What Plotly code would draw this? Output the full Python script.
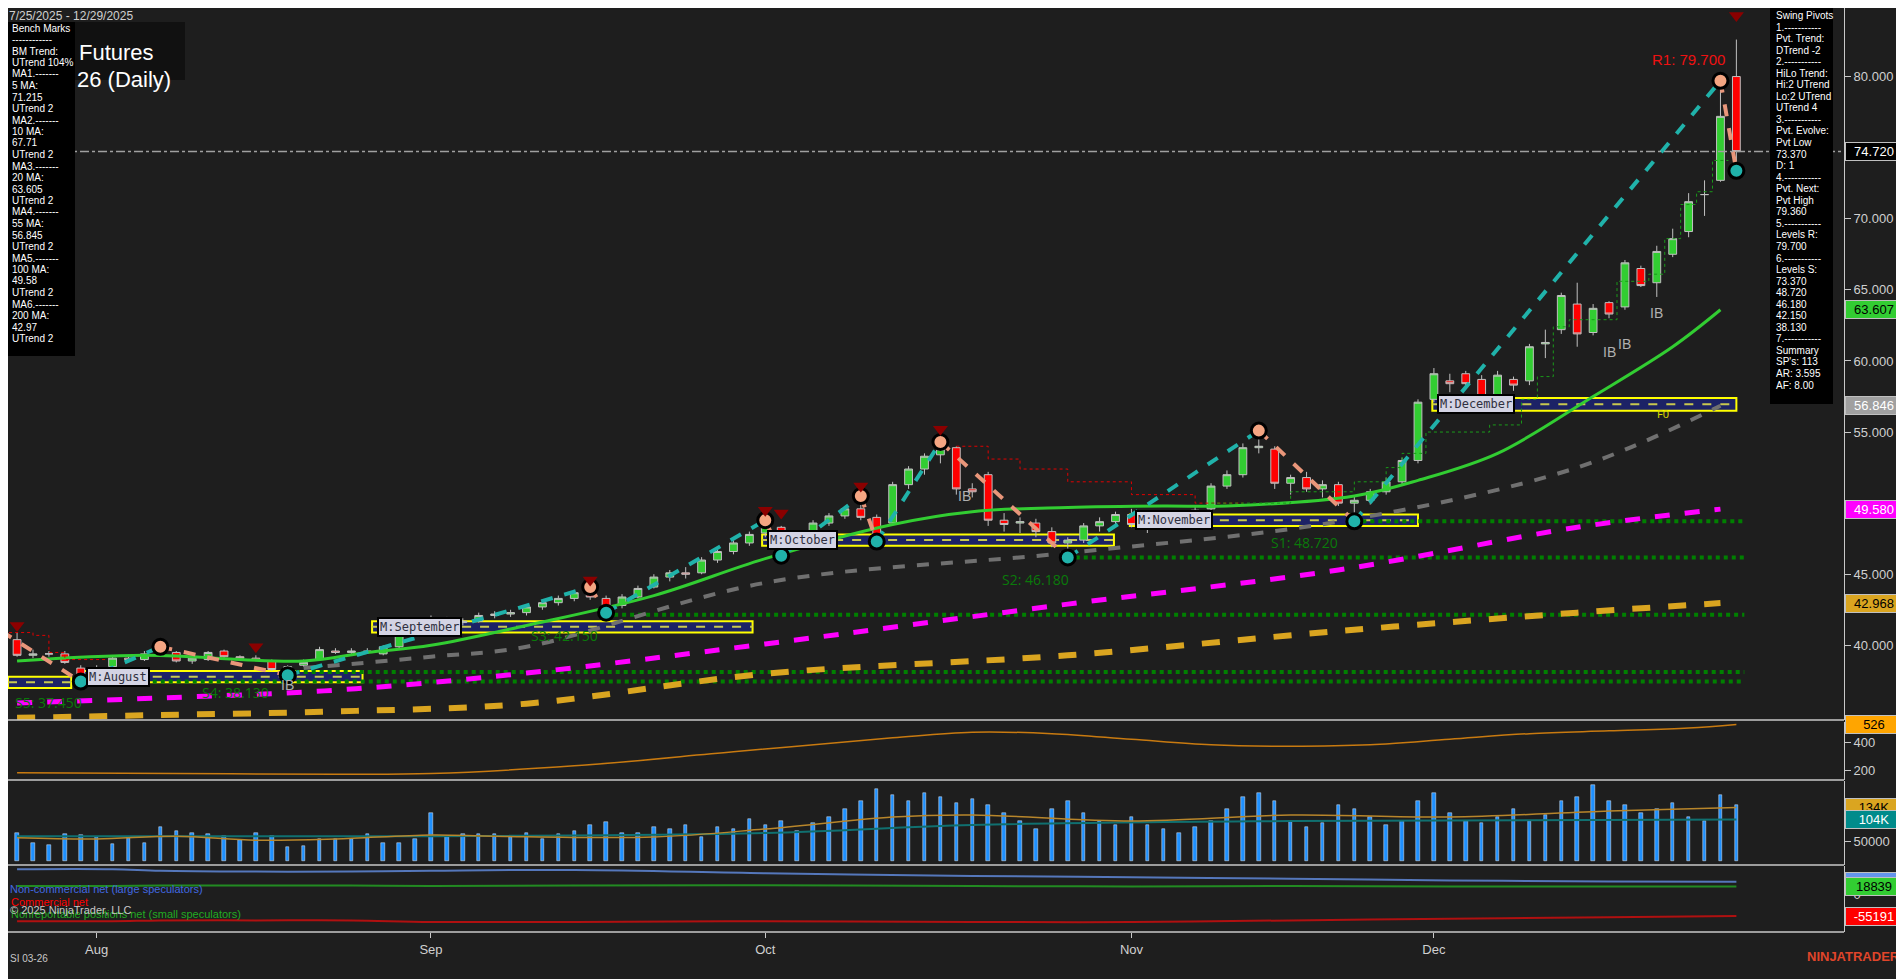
import plotly.graph_objects as go

# ---- price data (bar index = trading day from 7/25/2025) ----
bar_idx = list(range(109))
opens = [40.4, 39.3, 39.4, 39.4, 38.4, 37.9, 38.5, 39.1, 39.0, 39.4, 39.5, 38.9, 39.0, 39.6, 39.2, 39.1, 38.9, 38.3,
         38.6, 39.0, 39.6, 39.5, 39.5, 39.4, 39.9, 40.9, 41.7, 41.9, 41.6, 41.7, 42.1, 42.2, 42.3, 42.7, 43.0, 43.3,
         43.7, 43.3, 42.8, 43.4, 44.1, 44.8, 45.1, 45.1, 46.0, 46.6, 47.2, 47.9, 48.3, 46.9, 48.0, 48.6, 49.1, 49.6,
         49.0, 48.6, 51.3, 52.4, 53.4, 53.9, 51.0, 52.0, 48.8, 48.6, 48.6, 48.0, 47.2, 47.4, 48.4, 48.7, 49.2, 48.4,
         48.6, 48.8, 49.2, 49.6, 51.2, 52.0, 53.9, 53.8, 51.4, 51.8, 51.0, 51.3, 50.0, 50.2, 50.8, 51.5, 53.0, 57.3,
         58.6, 59.1, 58.7, 57.5, 58.7, 58.6, 61.2, 62.2, 64.0, 62.0, 64.1, 63.8, 66.5, 65.5, 67.5, 69.1, 71.7, 72.7,
         80.0]
highs = [40.9, 39.7, 39.6, 39.6, 38.6, 38.6, 39.2, 39.3, 39.6, 40.0, 39.6, 39.2, 39.6, 39.7, 39.3, 39.3, 39.0, 38.6,
         39.0, 39.9, 39.8, 39.8, 39.8, 40.0, 41.0, 41.7, 42.1, 42.0, 41.9, 42.3, 42.4, 42.5, 42.9, 43.2, 43.5, 43.9,
         44.1, 43.5, 43.6, 44.2, 45.0, 45.3, 45.5, 46.2, 46.8, 47.4, 48.0, 48.8, 48.4, 48.0, 48.8, 49.3, 49.8, 50.5,
         49.2, 51.5, 52.6, 53.5, 54.4, 54.0, 51.4, 52.2, 49.3, 49.0, 48.9, 48.3, 47.6, 48.6, 49.0, 49.4, 49.6, 48.8,
         49.0, 49.4, 49.8, 51.4, 52.3, 54.2, 55.1, 54.0, 52.0, 52.2, 51.6, 51.5, 50.5, 51.0, 51.8, 53.2, 57.3, 59.5,
         59.1, 59.3, 59.0, 59.3, 58.9, 61.2, 62.2, 64.8, 65.5, 64.0, 64.2, 67.1, 66.7, 68.1, 69.3, 71.8, 72.7, 79.7,
         82.6]
lows = [39.2, 39.1, 39.2, 38.7, 37.45, 37.6, 38.4, 38.9, 38.9, 39.3, 38.8, 38.7, 38.9, 39.1, 39.0, 38.9, 38.2, 37.9,
        38.5, 38.9, 39.4, 39.4, 39.4, 39.3, 39.8, 40.7, 41.5, 41.5, 41.4, 41.6, 41.9, 42.0, 42.1, 42.5, 42.8, 43.1,
        43.2, 42.3, 42.6, 43.3, 44.0, 44.5, 44.7, 45.0, 45.8, 46.4, 47.0, 47.6, 46.3, 46.8, 47.8, 48.4, 48.9, 48.8,
        47.3, 48.4, 51.0, 52.0, 52.8, 50.6, 50.4, 48.4, 48.0, 47.9, 47.6, 46.9, 46.18, 47.2, 48.0, 48.5, 48.3, 47.9,
        48.2, 48.6, 49.0, 49.5, 51.0, 51.8, 53.5, 51.0, 50.6, 50.8, 50.4, 49.8, 48.72, 49.9, 50.6, 51.3, 52.8, 57.1,
        57.8, 58.2, 57.0, 57.3, 57.9, 58.3, 60.2, 61.9, 61.0, 61.8, 63.0, 63.6, 65.2, 64.5, 67.3, 68.7, 70.2, 72.6,
        73.37]
closes = [39.3, 39.4, 39.4, 38.8, 37.8, 38.4, 39.1, 39.0, 39.4, 39.8, 38.9, 39.1, 39.5, 39.2, 39.1, 39.0, 38.3, 38.5,
          38.8, 39.7, 39.5, 39.6, 39.6, 39.9, 40.9, 41.6, 41.9, 41.6, 41.7, 42.1, 42.2, 42.3, 42.7, 43.0, 43.3, 43.7,
          43.4, 42.7, 43.4, 44.0, 44.8, 45.1, 45.0, 46.0, 46.6, 47.2, 47.8, 48.5, 46.8, 47.9, 48.6, 49.1, 49.6, 49.0,
          47.6, 51.3, 52.4, 53.3, 53.8, 51.0, 50.8, 48.8, 48.5, 48.7, 48.0, 47.2, 47.4, 48.4, 48.7, 49.2, 48.5, 48.6,
          48.8, 49.2, 49.5, 51.2, 52.0, 53.9, 54.0, 51.4, 51.8, 51.0, 51.3, 50.0, 50.2, 50.8, 51.5, 53.0, 57.1, 59.1,
          58.4, 58.4, 57.3, 59.0, 58.3, 61.0, 61.3, 64.6, 61.9, 63.7, 63.3, 66.9, 65.3, 67.7, 68.6, 71.2, 71.7, 77.2,
          74.72]
volume = [70, 45, 40, 68, 65, 60, 42, 58, 45, 85, 75, 70, 68, 62, 52, 70, 62, 35, 38, 55, 55, 55, 68, 45, 45, 55,
          120, 60, 68, 68, 68, 60, 70, 55, 68, 75, 90, 98, 70, 70, 85, 80, 90, 60, 85, 80, 105,
          90, 100, 75, 95, 110, 130, 150, 180, 165, 150, 170, 160, 145, 155, 140, 120, 100, 80, 130, 150, 120, 100, 90,
          110, 90, 80, 70, 85, 100, 130, 160, 170, 150, 100, 85, 95, 140, 130, 110, 90, 100, 150,
          170, 120, 100, 95, 110, 130, 100, 115, 150, 160, 190, 150, 140, 120, 130, 145, 110, 100, 165, 140]

month_ticks = [5, 26, 47, 70, 89]
month_labels = ["Aug", "Sep", "Oct", "Nov", "Dec"]
price_ticks = [40, 45, 55, 60, 65, 70, 80]

# moving averages read at sample bars
ma20_x = [0, 8, 18, 22, 26, 32, 40, 47, 55, 60, 66, 72, 76, 84, 88, 93, 99, 104, 107]
ma20_y = [38.9, 39.3, 38.9, 39.5, 40.0, 41.4, 43.5, 46.1, 48.5, 49.4, 49.7, 49.8, 49.8, 50.5, 51.6, 53.5, 57.5, 61.0, 63.6]
ma55_x = [18, 26, 32, 47, 66, 83, 98, 107]
ma55_y = [38.4, 39.2, 39.9, 44.4, 46.5, 48.7, 52.5, 56.85]
ma100_x = [0, 9, 20, 32, 47, 66, 83, 98, 107]
ma100_y = [35.95, 36.3, 36.85, 38.05, 40.1, 42.9, 45.3, 48.3, 49.58]
ma200_x = [0, 9, 20, 32, 47, 66, 83, 98, 107]
ma200_y = [34.9, 35.1, 35.35, 35.9, 38.0, 39.3, 41.0, 42.3, 42.97]

# swing pivots
piv_x = [-1, 4, 9, 17, 36, 37, 47, 48, 53, 54, 58, 66, 78, 84, 107, 108]
piv_y = [41.0, 37.45, 39.9, 37.9, 44.1, 42.3, 48.8, 46.3, 50.5, 47.3, 54.3, 46.18, 55.1, 48.72, 79.7, 73.37]
tri_x = [0, 15, 36, 47, 48, 53, 58, 108]
tri_y = [41.4, 39.9, 44.6, 49.5, 49.3, 51.2, 55.2, 84.3]

# trailing stops
red_stop_x = [-0.5, 1, 2, 3, 5.7, 59, 61, 63, 66, 70, 74, 77]
red_stop_y = [40.9, 40.7, 39.5, 39.0, 39.0, 54.0, 53.1, 52.4, 51.5, 50.6, 50.0, 50.0]
red_stop_seg = [0, 0, 0, 0, 0, 1, 1, 1, 1, 1, 1, 1]
grn_stop_x = [75, 80, 84, 86, 87, 88.5, 92.5, 94.5, 95.5, 96.5, 97.5, 100.5, 102.5, 103.5, 104.5, 105.5, 106.5, 107.5]
grn_stop_y = [50.0, 50.8, 51.5, 52.5, 53.5, 55.0, 55.5, 57.3, 58.9, 62.4, 62.9, 65.6, 66.1, 68.6, 71.0, 71.9, 74.1, 74.1]

# support levels
sup_names = ["S1", "S2", "S3", "S4", "S5"]
sup_vals = [48.72, 46.18, 42.15, 38.13, 37.45]
sup_start = [84, 66, 37, 17, 4]
sup_lbl_x = [80.9, 64, 34.4, 13.7, 2]
sup_lbl_y = [47.2, 44.6, 40.7, 36.7, 35.95]

# monthly value boxes
box_names = ["M:August", "M:August", "M:September", "M:October", "M:November", "M:December"]
box_x0 = [-0.57, 4.0, 22.3, 46.8, 69.9, 88.9]
box_x1 = [3.4, 21.7, 46.2, 68.9, 88.0, 108.0]
box_lo = [37.0, 37.4, 40.9, 47.0, 48.4, 56.5]
box_hi = [37.8, 38.2, 41.7, 47.8, 49.2, 57.4]
box_show_label = [False, True, True, True, True, True]

# lower panels
p2_x = [0, 10, 20, 26, 35, 45, 55, 60, 65, 70, 75, 80, 85, 90, 95, 100, 105, 108]
p2_y = [180, 175, 170, 175, 230, 330, 430, 470, 460, 420, 380, 370, 380, 420, 460, 480, 500, 526]
vavg_x = [0, 5, 10, 15, 20, 26, 30, 40, 47, 55, 60, 70, 80, 90, 100, 108]
vavg_y = [58, 55, 62, 52, 55, 65, 62, 60, 80, 110, 115, 100, 115, 110, 125, 134]
vteal_x = [0, 26, 47, 60, 80, 108]
vteal_y = [62, 62, 70, 90, 100, 104]
cot_x = [0, 6, 9, 15, 21, 26, 35, 47, 60, 70, 80, 90, 100, 108]
noncomm = [62, 62, 58, 56, 56, 58, 60, 52, 45, 42, 38, 34, 31, 30.853]
comm = [-68, -68, -66, -66, -66, -70, -70, -68, -70, -70, -66, -62, -58, -55.191]
nonrep = [20, 20, 21, 21, 21, 20, 21, 22, 20, 19, 20, 19, 19, 18.839]

bench_lines = ["Bench Marks", "------------", "BM Trend:", "UTrend 104%", "MA1.-------", "5 MA:", "71.215",
               "UTrend 2", "MA2.-------", "10 MA:", "67.71", "UTrend 2", "MA3.-------", "20 MA:", "63.605",
               "UTrend 2", "MA4.-------", "55 MA:", "56.845", "UTrend 2", "MA5.-------", "100 MA:", "49.58",
               "UTrend 2", "MA6.-------", "200 MA:", "42.97", "UTrend 2"]
swing_lines = ["Swing Pivots", "1.-----------", "Pvt. Trend:", "DTrend -2", "2.-----------", "HiLo Trend:",
               "Hi:2 UTrend", "Lo:2 UTrend", "UTrend 4", "3.-----------", "Pvt. Evolve:", "Pvt Low", "73.370",
               "D: 1", "4.-----------", "Pvt. Next:", "Pvt High", "79.360", "5.-----------", "Levels R:",
               "79.700", "6.-----------", "Levels S:", "73.370", "48.720", "46.180", "42.150", "38.130",
               "7.-----------", "Summary", "SP's: 113", "AR: 3.595", "AF: 8.00"]

BG = "#1e1e1e"
OFF = 8            # page body margin in the browser
PW, PH = 1836, 924  # plot area in px


def px(x):
    # screen x of the reference -> paper x
    return (x - OFF) / PW


def py(y):
    # screen y of the reference -> paper y
    return (PH - (y - OFF)) / PH


fig = go.Figure()

# value boxes (under everything)
for i in range(len(box_names)):
    fig.add_shape(type="rect", xref="x", yref="y", x0=box_x0[i], x1=box_x1[i], y0=box_lo[i], y1=box_hi[i],
                  fillcolor="#1c2266", line=dict(color="#ffff00", width=2), layer="below")
    mid = (box_lo[i] + box_hi[i]) / 2
    fig.add_shape(type="line", xref="x", yref="y", x0=box_x0[i], x1=box_x1[i], y0=mid, y1=mid,
                  line=dict(color="#c8c850", width=2, dash="dash"), layer="below")
    if box_show_label[i]:
        fig.add_annotation(x=box_x0[i] + 0.3, y=mid, xref="x", yref="y", text=box_names[i], showarrow=False,
                           xanchor="left", font=dict(family="DejaVu Sans Mono", size=12, color="#303040"),
                           bgcolor="#d4d4e4", bordercolor="#000000", borderwidth=2, borderpad=1)

# support dotted lines
for i in range(len(sup_vals)):
    fig.add_trace(go.Scatter(x=[sup_start[i], 108.5], y=[sup_vals[i], sup_vals[i]], mode="lines",
                             line=dict(color="#008000", width=4, dash="dot"), hoverinfo="skip"))
    fig.add_annotation(x=sup_lbl_x[i], y=sup_lbl_y[i], xref="x", yref="y",
                       text=f"{sup_names[i]}: {sup_vals[i]:.3f}", showarrow=False,
                       font=dict(size=14, color="#0a7a0a"))

# moving averages
fig.add_trace(go.Scatter(x=ma200_x, y=ma200_y, mode="lines", line=dict(color="#daa520", width=6, dash="dash", shape="spline")))
fig.add_trace(go.Scatter(x=ma100_x, y=ma100_y, mode="lines", line=dict(color="#ff00ff", width=5, dash="dash", shape="spline")))
fig.add_trace(go.Scatter(x=ma55_x, y=ma55_y, mode="lines", line=dict(color="#707070", width=4, dash="dash", shape="spline")))
fig.add_trace(go.Scatter(x=ma20_x, y=ma20_y, mode="lines", line=dict(color="#32cd32", width=3, shape="spline")))

# trailing stops
for seg in (0, 1):
    xs = [x for x, s in zip(red_stop_x, red_stop_seg) if s == seg]
    ys = [y for y, s in zip(red_stop_y, red_stop_seg) if s == seg]
    fig.add_trace(go.Scatter(x=xs, y=ys, mode="lines", line=dict(color="#e00000", width=1, dash="dot", shape="hv")))
fig.add_trace(go.Scatter(x=grn_stop_x, y=grn_stop_y, mode="lines",
                         line=dict(color="#1a9a1a", width=1, dash="dot", shape="hv")))

# swing lines
for i in range(len(piv_x) - 1):
    up = piv_y[i + 1] > piv_y[i]
    fig.add_trace(go.Scatter(x=piv_x[i:i + 2], y=piv_y[i:i + 2], mode="lines",
                             line=dict(color="#20b2aa" if up else "#e9967a", width=4, dash="dash")))

# candles
fig.add_trace(go.Candlestick(x=bar_idx, open=opens, high=highs, low=lows, close=closes,
                             increasing=dict(fillcolor="#32cd32", line=dict(color="#c0c0c0", width=1)),
                             decreasing=dict(fillcolor="#ff0000", line=dict(color="#c0c0c0", width=1)),
                             whiskerwidth=0))

# pivot markers
hi_x = [x for i, x in enumerate(piv_x) if i > 0 and piv_y[i] > piv_y[i - 1]]
hi_y = [y for i, y in enumerate(piv_y) if i > 0 and y > piv_y[i - 1]]
lo_x = [x for i, x in enumerate(piv_x) if i > 0 and piv_y[i] < piv_y[i - 1]]
lo_y = [y for i, y in enumerate(piv_y) if i > 0 and y < piv_y[i - 1]]
fig.add_trace(go.Scatter(x=hi_x, y=hi_y, mode="markers",
                         marker=dict(size=15, color="#f4a582", line=dict(color="#000000", width=3))))
fig.add_trace(go.Scatter(x=lo_x, y=lo_y, mode="markers",
                         marker=dict(size=15, color="#20b2aa", line=dict(color="#000000", width=3))))
fig.add_trace(go.Scatter(x=tri_x, y=tri_y, mode="markers",
                         marker=dict(size=13, symbol="triangle-down", color="#8b0000")))

# lower panels
fig.add_trace(go.Scatter(x=p2_x, y=p2_y, yaxis="y2", mode="lines", line=dict(color="#c87a10", width=1.5, shape="spline")))
fig.add_trace(go.Bar(x=bar_idx, y=[v * 1000 for v in volume], yaxis="y3", marker_color="#1e90ff", width=0.22))
fig.add_trace(go.Scatter(x=vteal_x, y=[v * 1000 for v in vteal_y], yaxis="y3", mode="lines",
                         line=dict(color="#107070", width=2, shape="spline")))
fig.add_trace(go.Scatter(x=vavg_x, y=[v * 1000 for v in vavg_y], yaxis="y3", mode="lines",
                         line=dict(color="#b8862b", width=1.5, shape="spline")))
fig.add_trace(go.Scatter(x=cot_x, y=[v * 1000 for v in noncomm], yaxis="y4", mode="lines",
                         line=dict(color="#5577bb", width=2, shape="spline")))
fig.add_trace(go.Scatter(x=cot_x, y=[v * 1000 for v in nonrep], yaxis="y4", mode="lines",
                         line=dict(color="#228b22", width=2, shape="spline")))
fig.add_trace(go.Scatter(x=cot_x, y=[v * 1000 for v in comm], yaxis="y4", mode="lines",
                         line=dict(color="#b01010", width=2, shape="spline")))

# current price dash-dot
fig.add_shape(type="line", xref="paper", yref="y", x0=0, x1=1, y0=closes[-1], y1=closes[-1],
              line=dict(color="#a0a0a0", width=1.5, dash="dashdot"))

# panel separators
for yy in [720, 780, 865, 932]:
    fig.add_shape(type="line", xref="paper", yref="paper", x0=0, x1=1, y0=py(yy), y1=py(yy),
                  line=dict(color="#c8c8c8", width=1.5))

# info boxes
fig.add_shape(type="rect", xref="paper", yref="paper", x0=px(8), x1=px(75), y0=py(356), y1=py(22),
              fillcolor="#000000", line=dict(width=0))
fig.add_shape(type="rect", xref="paper", yref="paper", x0=px(75), x1=px(185), y0=py(80), y1=py(22),
              fillcolor="#111111", line=dict(width=0))
fig.add_shape(type="rect", xref="paper", yref="paper", x0=px(1770), x1=px(1833), y0=py(404), y1=py(8),
              fillcolor="#000000", line=dict(width=0))
for i, t in enumerate(bench_lines):
    fig.add_annotation(x=px(10), y=py(28 + i * 11.5), xref="paper", yref="paper", text=t, showarrow=False,
                       xanchor="left", yanchor="middle", font=dict(family="Liberation Sans", size=10, color="#ffffff"))
for i, t in enumerate(swing_lines):
    fig.add_annotation(x=px(1774), y=py(15.5 + i * 11.55), xref="paper", yref="paper", text=t, showarrow=False,
                       xanchor="left", yanchor="middle", font=dict(family="Liberation Sans", size=10, color="#ffffff"))
fig.add_annotation(x=px(77), y=py(38), xref="paper", yref="paper", text="Futures", showarrow=False,
                   xanchor="left", font=dict(family="Liberation Sans", size=22, color="#ffffff"))
fig.add_annotation(x=px(75), y=py(65), xref="paper", yref="paper", text="26 (Daily)", showarrow=False,
                   xanchor="left", font=dict(family="Liberation Sans", size=22, color="#ffffff"))
fig.add_annotation(x=px(8), y=1, xref="paper", yref="paper", text="7/25/2025 - 12/29/2025", showarrow=False,
                   xanchor="left", yanchor="top", borderpad=0,
                   font=dict(family="Liberation Sans", size=12, color="#d0d0d0"))

# chart labels
fig.add_annotation(x=105, y=81.2, xref="x", yref="y", text="R1: 79.700", showarrow=False,
                   font=dict(family="Liberation Sans", size=15, color="#ee1111"))
fig.add_annotation(x=103.4, y=56.3, xref="x", yref="y", text="F0", showarrow=False,
                   font=dict(size=11, color="#e0e000"))
for xx, yy in [(103, 63.4), (100, 60.6), (101, 61.2), (59.5, 50.5), (17, 37.2)]:
    fig.add_annotation(x=xx, y=yy, xref="x", yref="y", text="IB", showarrow=False,
                       font=dict(family="Liberation Sans", size=14, color="#b0b0b0"))

# legend texts bottom-left
fig.add_annotation(x=px(8), y=py(897), xref="paper", yref="paper", text="Non-commercial net (large speculators)",
                   showarrow=False, xanchor="left", font=dict(family="Liberation Sans", size=11, color="#4169e1"))
fig.add_annotation(x=px(9), y=py(910), xref="paper", yref="paper", text="Commercial net",
                   showarrow=False, xanchor="left", font=dict(family="Liberation Sans", size=11, color="#ff0000"))
fig.add_annotation(x=px(9), y=py(922), xref="paper", yref="paper", text="Nonreportable positions net (small speculators)",
                   showarrow=False, xanchor="left", font=dict(family="Liberation Sans", size=11, color="#22aa22"))
fig.add_annotation(x=px(8), y=py(918), xref="paper", yref="paper", text="© 2025 NinjaTrader, LLC",
                   showarrow=False, xanchor="left", font=dict(family="Liberation Sans", size=11, color="#c8c8c8"))
fig.add_annotation(x=px(8), y=py(966), xref="paper", yref="paper", text="SI 03-26",
                   showarrow=False, xanchor="left", font=dict(family="Liberation Sans", size=10, color="#c8c8c8"))
fig.add_annotation(x=px(1902), y=py(966), xref="paper", yref="paper", text="<b>NINJATRADER</b>",
                   showarrow=False, xanchor="right", font=dict(family="Liberation Sans", size=13, color="#e0452a"))

# right-side value tags
tags = [("y", closes[-1], "74.720", "#000000", "#ffffff"),
        ("y", ma20_y[-1], "63.607", "#32cd32", "#000000"),
        ("y", ma55_y[-1], "56.846", "#a0a0a0", "#ffffff"),
        ("y", ma100_y[-1], "49.580", "#ff00ff", "#ffffff"),
        ("y", ma200_y[-1], "42.968", "#daa520", "#000000"),
        ("y2", p2_y[-1], "526", "#ffa500", "#000000"),
        ("y3", vavg_y[-1] * 1000, "134K", "#daa520", "#000000"),
        ("y3", vteal_y[-1] * 1000, "104K", "#008b8b", "#ffffff"),
        ("y4", noncomm[-1] * 1000, "30853", "#6495ed", "#000000"),
        ("y4", nonrep[-1] * 1000, "18839", "#32cd32", "#000000"),
        ("y4", comm[-1] * 1000, "-55191", "#ff0000", "#ffffff")]
for ax, val, txt, bg, fc in tags:
    fig.add_annotation(x=1, y=val, xref="paper", yref=ax, text=txt, showarrow=False, xanchor="left",
                       xshift=1, width=54, align="center", bgcolor=bg, bordercolor="#c0c0c0", borderwidth=1,
                       borderpad=1, font=dict(family="Liberation Sans", size=13, color=fc))

axis_font = dict(family="Liberation Sans", size=13, color="#d0d0d0")
common_y = dict(side="right", showgrid=False, zeroline=False, showline=True, linecolor="#c8c8c8",
                ticks="outside", ticklen=6, tickcolor="#c8c8c8", tickfont=axis_font)

fig.update_layout(
    width=1904 - OFF, height=979 - OFF, paper_bgcolor=BG, plot_bgcolor=BG, showlegend=False,
    margin=dict(l=0, r=60, t=0, b=47), bargap=0,
    xaxis=dict(range=[-0.57, 114.76], anchor="y4", tickvals=month_ticks, ticktext=month_labels,
               showgrid=False, zeroline=False, ticks="outside", ticklen=5, tickcolor="#c8c8c8",
               tickfont=axis_font, rangeslider=dict(visible=False)),
    yaxis=dict(domain=[py(720), 1], range=[34.75, 84.82], tickvals=price_ticks,
               tickformat=".3f", **common_y),
    yaxis2=dict(domain=[py(780), py(722)], range=[129, 543], tickvals=[200, 400], anchor="x", **common_y),
    yaxis3=dict(domain=[py(865), py(781)], range=[-10000, 200000], tickvals=[50000], tickformat="d",
                anchor="x", **common_y),
    yaxis4=dict(domain=[0, py(866)], range=[-95000, 70000], tickvals=[0], anchor="x", **common_y),
)

fig.write_html("out.html")
